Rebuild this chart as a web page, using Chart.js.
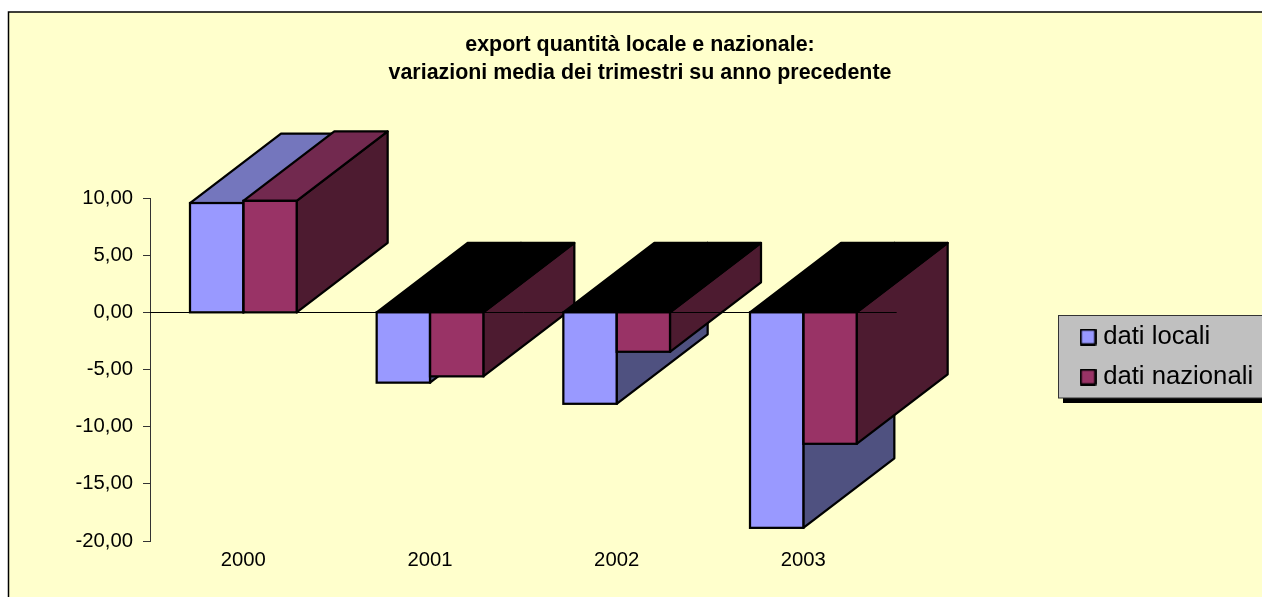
<!DOCTYPE html>
<html><head><meta charset="utf-8">
<style>html,body{margin:0;padding:0;background:#fff;overflow:hidden}canvas{display:block}</style>
<script src="https://cdn.jsdelivr.net/npm/chart.js@4"></script>
</head><body><canvas id="c" width="1262" height="597"></canvas>
<script>
const categories = ['2000','2001','2002','2003'];
const datiLocali = [9.56, -6.15, -8.0, -18.85];
const datiNazionali = [9.75, -5.6, -3.45, -11.5];
const titleLines = ['export quantità locale e nazionale:','variazioni media dei trimestri su anno precedente'];

const FONT = '"Liberation Sans", Arial, sans-serif';
const LEGEND_SIZE = 25.7;
const DEPTH_X = 91, DEPTH_Y = 69.5, STROKE = 2.25;
const faces = [
  {front:'#9999ff', top:'#7476bd', side:'#4f5180'},
  {front:'#993366', top:'#72294f', side:'#4d1b30'}
];

function swatch(color){
  const s = document.createElement('canvas'); s.width = 17; s.height = 17;
  const c = s.getContext('2d');
  c.fillStyle = color; c.fillRect(1,1,15,15);
  c.strokeStyle = '#000'; c.lineWidth = 2.25; c.lineJoin = 'round'; c.strokeRect(1.2,1.2,14.6,14.6);
  return s;
}

const solid3d = {
  id:'solid3d',
  afterLayout(chart){
    const t = chart.titleBlock; t.left = 0; t.right = 1280;
    const l = chart.legend, pad = l.options.labels.padding;
    l.left = 1085.7 - pad; l.right = 1262; l.width = l.right - l.left;
    l.top = 337 - pad - LEGEND_SIZE/2; l.bottom = l.top + 100; l.height = 100;
  },
  beforeDraw(chart){
    const c = chart.ctx;
    c.save();
    c.fillStyle = '#fff'; c.fillRect(0,0,chart.width,chart.height);
    c.fillStyle = '#ffffcc'; c.fillRect(9,12,chart.width,chart.height);
    c.strokeStyle = '#000'; c.lineWidth = 1.5;
    c.beginPath(); c.moveTo(8.5,chart.height); c.lineTo(8.5,12); c.lineTo(chart.width,12); c.stroke();
    c.fillStyle = '#000'; c.fillRect(1063,320,chart.width,83);
    c.fillStyle = '#c0c0c0'; c.fillRect(1058,315,chart.width,83);
    c.strokeStyle = '#333'; c.lineWidth = 1; c.strokeRect(1058.5,315.5,chart.width,82.5);
    c.restore();
  },
  beforeDatasetsDraw(chart){
    const c = chart.ctx, y0 = chart.scales.y.getPixelForValue(0);
    c.save();
    c.lineWidth = STROKE; c.strokeStyle = '#000'; c.lineJoin = 'round';
    const poly = (pts, fill) => {
      c.beginPath(); pts.forEach((p,i)=> i? c.lineTo(p[0],p[1]) : c.moveTo(p[0],p[1]));
      c.closePath(); c.fillStyle = fill; c.fill(); c.stroke();
    };
    categories.forEach((_,i)=>{
      [0,1].forEach(d=>{
        const b = chart.getDatasetMeta(d).data[i];
        const x0 = b.x - b.width/2, x1 = b.x + b.width/2;
        const up = Math.min(b.y, y0), down = Math.max(b.y, y0);
        poly([[x1,up],[x1+DEPTH_X,up-DEPTH_Y],[x1+DEPTH_X,down-DEPTH_Y],[x1,down]], faces[d].side);
        poly([[x0,up],[x1,up],[x1+DEPTH_X,up-DEPTH_Y],[x0+DEPTH_X,up-DEPTH_Y]], b.y < y0 ? faces[d].top : '#000');
      });
    });
    c.lineWidth = 1; c.strokeStyle = '#000';
    const yz = Math.round(y0) + 0.5;
    c.beginPath(); c.moveTo(chart.chartArea.left,yz); c.lineTo(chart.chartArea.right,yz); c.stroke();
    c.restore();
  },
  afterDatasetsDraw(chart){
    const c = chart.ctx, y0 = chart.scales.y.getPixelForValue(0);
    c.save(); c.lineWidth = STROKE; c.strokeStyle = '#000';
    [0,1].forEach(d=> chart.getDatasetMeta(d).data.forEach(b=>{
      c.strokeRect(b.x-b.width/2, Math.min(b.y,y0), b.width, Math.abs(b.y-y0));
    }));
    c.restore();
  }
};

new Chart(document.getElementById('c'),{
  type:'bar',
  data:{labels:categories,datasets:[
    {label:'dati locali',data:datiLocali,backgroundColor:faces[0].front,borderWidth:0,barPercentage:1,categoryPercentage:0.5714},
    {label:'dati nazionali',data:datiNazionali,backgroundColor:faces[1].front,borderWidth:0,barPercentage:1,categoryPercentage:0.5714}
  ]},
  plugins:[solid3d],
  options:{
    responsive:false,animation:false,devicePixelRatio:1,
    layout:{padding:{left:9,right:365.33,top:0,bottom:0}},
    plugins:{
      tooltip:{enabled:false},
      title:{display:true,text:titleLines,color:'#000',
        font:{family:FONT,size:21.4,weight:'bold',lineHeight:1.3},
        padding:{top:31,bottom:111.36}},
      legend:{position:'chartArea',align:'start',
        labels:{font:{family:FONT,size:LEGEND_SIZE},color:'#000',boxWidth:14,boxHeight:14,padding:14.3,
          usePointStyle:true,pointStyleWidth:4.6,
          generateLabels(chart){
            return Chart.defaults.plugins.legend.labels.generateLabels(chart).map((l,i)=>({...l,pointStyle:swatch(faces[i].front),rotation:0}));
          }}}
    },
    scales:{
      x:{grid:{display:false,drawTicks:false},border:{display:false},
        ticks:{color:'#000',font:{family:FONT,size:20.3},padding:7},
        afterFit(s){s.height=56;}},
      y:{min:-20,max:10,
        ticks:{stepSize:5,color:'#000',font:{family:FONT,size:20.3},padding:10,
          callback:v=>v.toFixed(2).replace('.',',')},
        grid:{drawOnChartArea:false,drawTicks:true,tickLength:7,color:'#333',lineWidth:1},
        border:{display:true,color:'#333',width:1},
        afterFit(s){s.width=141;}}
    }
  }
});
</script></body></html>
